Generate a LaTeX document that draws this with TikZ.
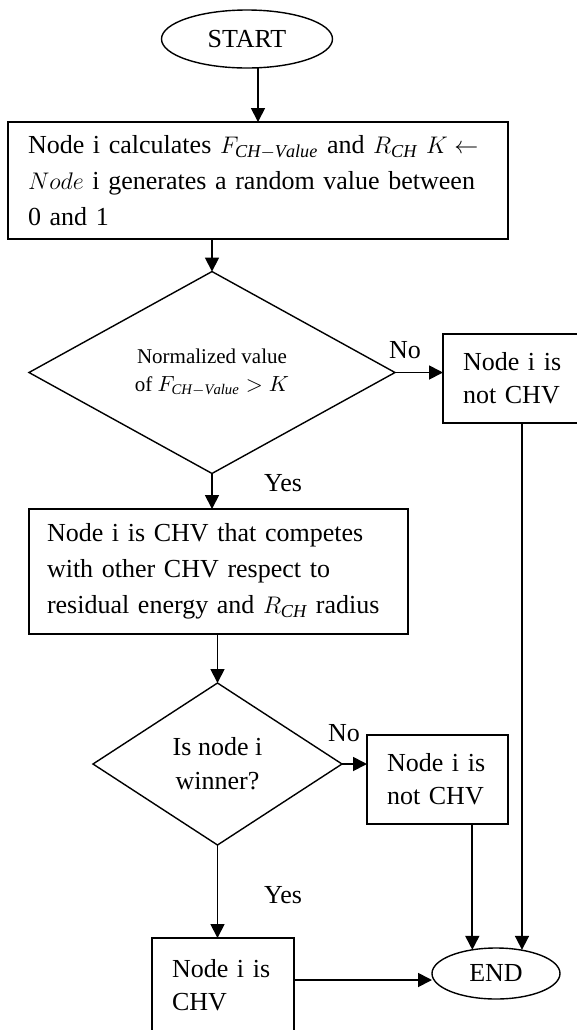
\documentclass[tikz,border=0pt]{standalone}
\usepackage{fontspec}
\setmainfont{Liberation Serif}
\usepackage{tikz}
\usetikzlibrary{shapes.geometric, arrows.meta, calc}

\begin{document}
\begin{tikzpicture}[x=0.5pt, y=-0.5pt,
    every node/.style={outer sep=0pt},
    txt/.style={font=\fontsize{13}{18}\selectfont},
    term/.style={ellipse, draw, line width=0.7pt, inner sep=0pt, txt},
    box/.style={rectangle, draw, line width=0.7pt, align=left, inner xsep=10pt, txt},
    decision/.style={diamond, draw, line width=0.7pt, align=center, inner sep=0pt},
    arrow/.style={-{Triangle[length=7pt,width=7pt]}, line width=0.9pt}
]
\useasboundingbox (0,0) rectangle (577,1030);

% Terminals
\node[term, minimum width=85.5pt, minimum height=29pt] (start) at (247,39) {START};
\node[term, minimum width=64pt, minimum height=25.5pt] (end) at (496,973.5) {END};

% Process boxes
\node[box, minimum width=250pt, minimum height=58.5pt, text width=230pt] (calc) at (258,180.5)
  {\mbox{Node i calculates $F_{\mathit{CH}-\mathit{Value}}$ and $R_{\mathit{CH}}$ $K \leftarrow$}\\\mbox{$Node$ i generates a random value between}\\0 and 1};
\node[box, inner xsep=9pt, minimum width=189.5pt, minimum height=62.5pt, text width=171.5pt] (compete) at (218.5,571.5)
  {Node i is CHV that competes\\with other CHV respect to\\\mbox{residual energy and $R_{\mathit{CH}}$ radius}};
\node[box, font=\fontsize{13}{16.5}\selectfont, minimum width=79pt, minimum height=44.5pt, text width=59pt] (notchva) at (522,378.5)
  {Node i is\\not CHV};
\node[box, font=\fontsize{13}{16.5}\selectfont, minimum width=70.5pt, minimum height=44.5pt, text width=50.5pt] (notchvb) at (437.5,779.5)
  {Node i is\\not CHV};
\node[box, font=\fontsize{13}{16.5}\selectfont, minimum width=71pt, minimum height=47pt, text width=51pt] (chv) at (223,985)
  {Node i is\\CHV};

% Decisions
\node[decision, font=\fontsize{10.5}{14}\selectfont, minimum width=183pt, minimum height=84.5pt] (norm) at (212,372.5)
  {Normalized value\\of $F_{\mathit{CH}-\mathit{Value}} > K$};
\node[decision, font=\fontsize{13}{17}\selectfont, minimum width=124.5pt, minimum height=81pt] (win) at (217.5,764)
  {Is node i\\winner?};

% Branch labels
\node[txt] (no1) at (405,350) {No};
\node[txt] (yes1) at (283,483) {Yes};
\node[txt] (no2) at (344,733) {No};
\node[txt] (yes2) at (283,895) {Yes};

% Connections
\draw[arrow] (start.south -| calc.north) -- (calc.north);
\draw[arrow] (calc.south -| norm.north) -- (norm.north);
\draw[arrow] (norm.east) -- (norm.east -| notchva.west);
\draw[arrow] (norm.south) -- (norm.south |- compete.north);
\draw[arrow] (compete.south -| win.north) -- (win.north);
\draw[arrow] (win.east) -- (win.east -| notchvb.west);
\draw[arrow] (win.south) -- (win.south |- chv.north);
\draw[arrow] (notchva.south) -- (notchva.south |- end.45);
\draw[arrow] (notchvb.south -| end.135) -- (end.135);
\coordinate (chvout) at ([yshift=-21pt]chv.north east);
\draw[arrow] (chvout) -- (chvout -| end.west);
\end{tikzpicture}
\end{document}
